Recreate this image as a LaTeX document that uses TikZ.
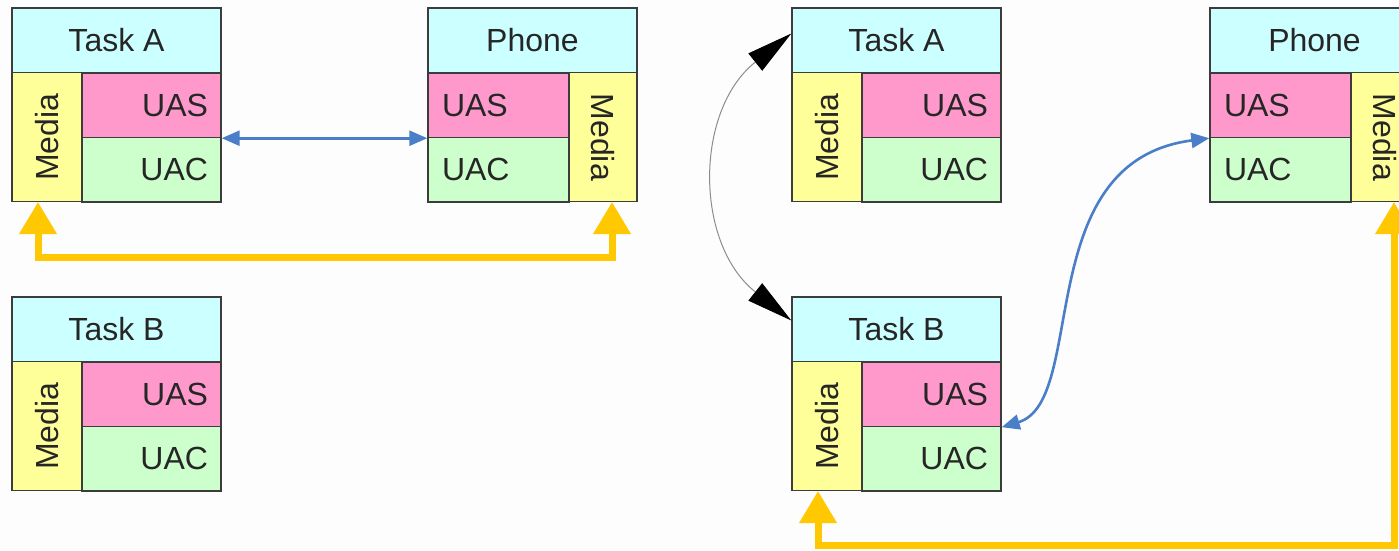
\documentclass[tikz,border=0pt]{standalone}
\usepackage{fontspec}
\setmainfont{Liberation Sans}
\usetikzlibrary{arrows.meta,calc}

\definecolor{hdr}{HTML}{CCFFFF}
\definecolor{uasfill}{HTML}{FF99CC}
\definecolor{uacfill}{HTML}{CCFFCC}
\definecolor{medfill}{HTML}{FFFF99}
\definecolor{edge}{HTML}{3C3C3C}
\definecolor{sipblue}{HTML}{4A7EC8}
\definecolor{rtpyellow}{HTML}{FFC800}
\definecolor{paper}{HTML}{FDFDFD}

\tikzset{
  cell/.style={draw=edge, line width=1.4pt, inner sep=0pt,
    font=\fontsize{32}{36}\selectfont, text=black!85},
  % SIP agent block: header, vertical Media column on the left
  taskblk/.pic={
    \node[cell, fill=hdr, minimum width=209pt, minimum height=65pt] (-hdr) at (104.5,32.5) {#1};
    \node[cell, fill=medfill, minimum width=129pt, minimum height=70pt, rotate=90] (-media) at (35,129.25) {Media};
    \node[cell, fill=uasfill, minimum width=139pt, minimum height=64.5pt,
      text width=113pt, align=right, inner xsep=13pt] (-uas) at (139.5,97.25) {UAS};
    \node[cell, fill=uacfill, minimum width=139pt, minimum height=64.5pt,
      text width=113pt, align=right, inner xsep=13pt] (-uac) at (139.5,161.75) {UAC};
    \coordinate (-feed) at (26,194);
  },
  % phone block: header, vertical Media column on the right
  phoneblk/.pic={
    \node[cell, fill=hdr, minimum width=209pt, minimum height=65pt] (-hdr) at (104.5,32.5) {#1};
    \node[cell, fill=medfill, minimum width=129pt, minimum height=68pt, rotate=-90] (-media) at (175,129.25) {Media};
    \node[cell, fill=uasfill, minimum width=141pt, minimum height=64.5pt,
      text width=113pt, align=left, inner xsep=14pt] (-uas) at (70.5,97.25) {UAS};
    \node[cell, fill=uacfill, minimum width=141pt, minimum height=64.5pt,
      text width=113pt, align=left, inner xsep=14pt] (-uac) at (70.5,161.75) {UAC};
    \coordinate (-feed) at (184,194);
  },
  sipline/.style={draw=sipblue, line width=2.6pt,
    {Triangle[length=18pt,width=15pt]}-{Triangle[length=18pt,width=15pt]}},
  rtpline/.style={draw=rtpyellow, line width=7pt,
    {Triangle[length=32pt,width=36pt]}-{Triangle[length=32pt,width=36pt]}},
  moveline/.style={draw=black!45, line width=1pt,
    {Triangle[length=46pt,width=22pt,color=black]}-{Triangle[length=46pt,width=22pt,color=black]}},
}

\begin{document}
\begin{tikzpicture}[x=1pt, y=-1pt]
  \clip (0,0) rectangle (1399,550);
  \fill[paper] (0,0) rectangle (1399,550);

  % left: Task A holds the call
  \pic (LA) at (12,8)    {taskblk={Task A}};
  \pic (LP) at (428,8)   {phoneblk={Phone}};
  \pic (LB) at (12,297)  {taskblk={Task B}};

  % right: call moved to Task B
  \pic (RA) at (792,8)   {taskblk={Task A}};
  \pic (RB) at (792,297) {taskblk={Task B}};
  \pic (RP) at (1210,8)  {phoneblk={Phone}};

  % signalling
  \draw[sipline] (LA-uas.south east) -- (LP-uas.south west);
  \draw[sipline] (RB-uas.south east) .. controls +(87,-26) and +(-180,23) .. (RP-uas.south west);

  % media streams
  \draw[rtpline] (LA-feed) -- ++(0,55) -| (LP-feed);
  \draw[rtpline] (RB-feed) -- ++(0,54) -| (RP-feed);

  % hand-over between tasks
  \draw[moveline] ([yshift=7pt]RA-hdr.west) .. controls +(-97,77) and +(-97,-77) .. ([yshift=9pt]RB-hdr.west);
\end{tikzpicture}
\end{document}
